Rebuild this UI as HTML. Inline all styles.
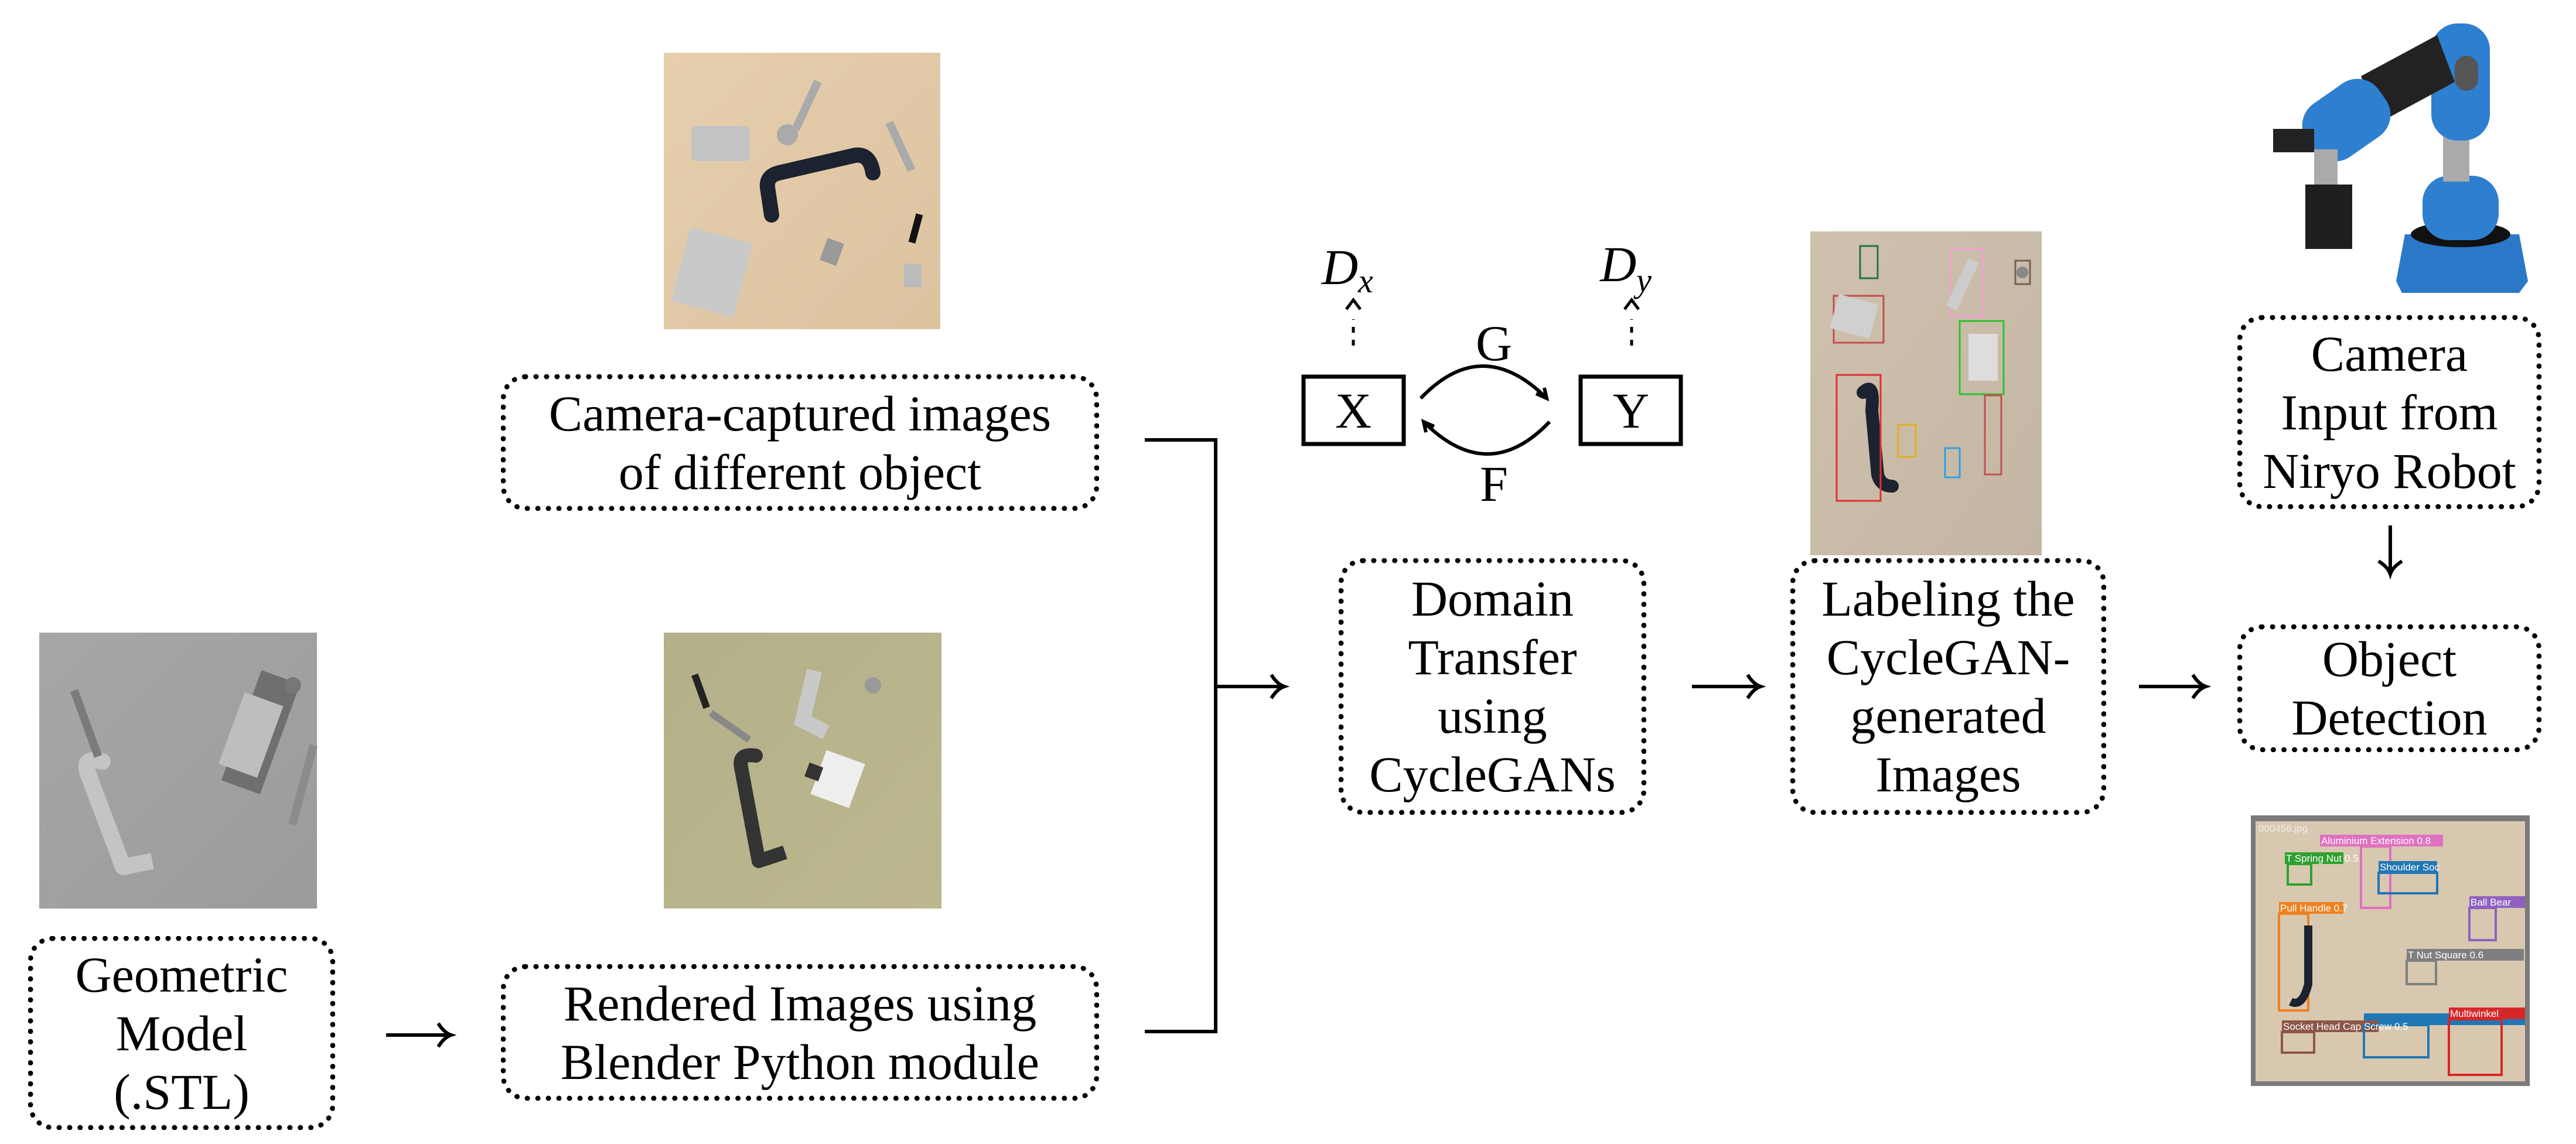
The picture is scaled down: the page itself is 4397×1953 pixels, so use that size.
<!DOCTYPE html>
<html><head><meta charset="utf-8"><style>
body{margin:0;width:4397px;height:1953px;background:#fff;position:relative;overflow:hidden;font-family:"Liberation Serif",serif;}
.b{position:absolute;box-sizing:border-box;border:9px dotted #000;border-radius:42px;display:flex;align-items:center;justify-content:center;text-align:center;font-size:86px;line-height:100px;color:#000;white-space:nowrap;}
svg{position:absolute;left:0;top:0;}
</style></head><body>

<svg width="4397" height="1953" viewBox="0 0 4397 1953">
<defs>
<linearGradient id="g1" x1="0" y1="0" x2="1" y2="1"><stop offset="0" stop-color="#a6a7a8"/><stop offset="1" stop-color="#9a9b9c"/></linearGradient>
<linearGradient id="g2" x1="0" y1="0" x2="1" y2="1"><stop offset="0" stop-color="#b3b08a"/><stop offset="1" stop-color="#bcb78e"/></linearGradient>
<linearGradient id="g3" x1="0" y1="0" x2="1" y2="1"><stop offset="0" stop-color="#e6cfae"/><stop offset="1" stop-color="#dcc3a0"/></linearGradient>
<linearGradient id="g4" x1="0" y1="0" x2="1" y2="1"><stop offset="0" stop-color="#cfc1ad"/><stop offset="1" stop-color="#c3b6a3"/></linearGradient>
</defs>

<rect x="67" y="1080" width="474" height="471" fill="url(#g1)"/>
<path d="M210,1480 L150,1320 Q140,1290 175,1300" stroke="#c3c4c5" stroke-width="28" fill="none" stroke-linecap="round"/>
<path d="M210,1480 L260,1470" stroke="#c3c4c5" stroke-width="28" fill="none"/>
<rect x="410" y="1150" width="70" height="200" fill="#6e6f70" transform="rotate(20 445 1250)"/>
<rect x="395" y="1190" width="70" height="130" fill="#bdbebf" transform="rotate(20 430 1250)"/>
<rect x="140" y="1175" width="14" height="120" fill="#7a7b7c" transform="rotate(-20 147 1235)"/>
<rect x="510" y="1270" width="14" height="140" fill="#8a8b8c" transform="rotate(15 517 1340)"/>
<circle cx="500" cy="1170" r="14" fill="#777"/>

<rect x="1133" y="1080" width="474" height="471" fill="url(#g2)"/>
<path d="M1295,1470 L1265,1310 Q1260,1285 1290,1290" stroke="#333" stroke-width="24" fill="none" stroke-linecap="round"/>
<path d="M1295,1470 L1340,1455" stroke="#333" stroke-width="24" fill="none"/>
<path d="M1400,1145 L1380,1230 L1420,1250" stroke="#c9c9c9" stroke-width="26" fill="none" transform="translate(-10 0)"/>
<rect x="1395" y="1290" width="70" height="80" fill="#eee" transform="rotate(20 1430 1330)"/>
<rect x="1375" y="1320" width="25" height="25" fill="#333" transform="rotate(20 1430 1330)"/>
<rect x="1190" y="1150" width="12" height="60" fill="#222" transform="rotate(-20 1196 1180)"/>
<rect x="1240" y="1200" width="12" height="80" fill="#888" transform="rotate(-55 1246 1240)"/>
<circle cx="1490" cy="1170" r="14" fill="#999"/>

<rect x="1133" y="90" width="472" height="472" fill="url(#g3)"/>
<path d="M1317,367 L1310,320 Q1308,300 1330,295 L1460,265 Q1485,262 1490,295" stroke="#1c2230" stroke-width="26" fill="none" stroke-linecap="round"/>
<rect x="1160" y="400" width="110" height="130" fill="#c9c9c9" transform="rotate(15 1215 465)"/>
<rect x="1180" y="215" width="100" height="60" fill="#c3c3c5" rx="8"/>
<rect x="1370" y="135" width="14" height="90" fill="#aaa" transform="rotate(25 1377 180)"/>
<rect x="1530" y="205" width="14" height="90" fill="#aaa" transform="rotate(-25 1537 250)"/>
<circle cx="1344" cy="230" r="18" fill="#aaa"/>
<rect x="1557" y="365" width="12" height="50" fill="#111" transform="rotate(15 1563 390)"/>
<rect x="1543" y="450" width="30" height="40" fill="#bbb"/>
<rect x="1405" y="410" width="30" height="40" fill="#999" transform="rotate(20 1420 430)"/>

<rect x="3090" y="395" width="395" height="553" fill="url(#g4)"/>
<path d="M3180,670 Q3200,650 3195,700 L3205,810 Q3210,830 3230,830" stroke="#1c2230" stroke-width="22" fill="none" stroke-linecap="round"/>
<rect x="3135" y="640" width="75" height="215" fill="none" stroke="#e03030" stroke-width="3"/>
<rect x="3175" y="420" width="30" height="55" fill="none" stroke="#2a7040" stroke-width="3"/>
<rect x="3130" y="505" width="85" height="80" fill="none" stroke="#c05050" stroke-width="3"/>
<rect x="3330" y="425" width="55" height="115" fill="none" stroke="#f0a0d0" stroke-width="3"/>
<rect x="3345" y="548" width="75" height="125" fill="none" stroke="#30c030" stroke-width="3"/>
<rect x="3440" y="445" width="25" height="40" fill="none" stroke="#7a6050" stroke-width="3"/>
<circle cx="3452" cy="465" r="10" fill="#888"/>
<rect x="3240" y="725" width="30" height="55" fill="none" stroke="#e0b020" stroke-width="3"/>
<rect x="3320" y="765" width="25" height="50" fill="none" stroke="#30a0e0" stroke-width="3"/>
<rect x="3388" y="675" width="28" height="135" fill="none" stroke="#c05050" stroke-width="3"/>
<rect x="3360" y="570" width="50" height="80" fill="#ddd"/>
<rect x="3340" y="440" width="20" height="90" fill="#ccc" transform="rotate(25 3350 485)"/>
<rect x="3130" y="510" width="70" height="60" fill="#d0d0d0" transform="rotate(15 3165 540)"/>

<path d="M4105,400 L4300,400 L4315,480 L4300,500 L4100,500 L4090,480 Z" fill="#2b78c9"/>
<ellipse cx="4200" cy="400" rx="85" ry="22" fill="#111"/>
<rect x="4135" y="300" width="130" height="110" rx="45" fill="#2f7fd0"/>
<rect x="4170" y="230" width="45" height="80" fill="#aaa"/>
<rect x="4150" y="40" width="100" height="200" rx="45" fill="#2f7fd0"/>
<rect x="4190" y="95" width="40" height="60" rx="20" fill="#555"/>
<path d="M4030,130 L4160,60 L4190,140 L4060,210 Z" fill="#222"/>
<rect x="3930" y="150" width="150" height="110" rx="45" fill="#2f7fd0" transform="rotate(-35 4005 205)"/>
<rect x="3950" y="255" width="40" height="70" fill="#aaa"/>
<rect x="3935" y="315" width="80" height="110" fill="#1e1e1e"/>
<rect x="3880" y="220" width="70" height="40" fill="#222"/>

<rect x="3842" y="1392" width="476" height="462" fill="#7a7a7a"/>
<rect x="3850" y="1402" width="460" height="444" fill="#d8c8b0"/>
<rect x="3890" y="1560" width="50" height="165" fill="none" stroke="#f08020" stroke-width="4"/>
<rect x="3890" y="1540" width="110" height="20" fill="#f08020"/>
<path d="M3910,1710 Q3930,1720 3940,1680 L3940,1580" stroke="#1c2230" stroke-width="14" fill="none"/>
<rect x="3960" y="1425" width="210" height="20" fill="#e070c0"/>
<rect x="4030" y="1445" width="50" height="105" fill="none" stroke="#e070c0" stroke-width="4"/>
<rect x="3900" y="1455" width="100" height="20" fill="#30a030"/>
<rect x="3905" y="1475" width="40" height="35" fill="none" stroke="#30a030" stroke-width="4"/>
<rect x="4060" y="1470" width="100" height="20" fill="#1f77b4"/>
<rect x="4060" y="1490" width="100" height="35" fill="none" stroke="#1f77b4" stroke-width="4"/>
<rect x="4215" y="1530" width="95" height="20" fill="#9060c0"/>
<rect x="4215" y="1550" width="45" height="55" fill="none" stroke="#9060c0" stroke-width="4"/>
<rect x="4108" y="1620" width="200" height="20" fill="#7f7f7f"/>
<rect x="4108" y="1640" width="50" height="40" fill="none" stroke="#7f7f7f" stroke-width="4"/>
<rect x="4035" y="1730" width="275" height="20" fill="#1f77b4"/>
<rect x="3895" y="1742" width="165" height="20" fill="#8c564b"/>
<rect x="3895" y="1762" width="55" height="35" fill="none" stroke="#8c564b" stroke-width="4"/>
<rect x="4180" y="1720" width="130" height="20" fill="#d62728"/>
<rect x="4180" y="1740" width="90" height="95" fill="none" stroke="#d62728" stroke-width="4"/>
<rect x="4035" y="1750" width="110" height="55" fill="none" stroke="#1f77b4" stroke-width="4"/>
<g font-family="Liberation Sans,sans-serif" font-size="17" fill="#fff">
<text x="3855" y="1420" fill="#eee">000456.jpg</text>
<text x="3962" y="1441">Aluminium Extension 0.8</text>
<text x="3902" y="1471">T Spring Nut 0.5</text>
<text x="4062" y="1486">Shoulder Soc</text>
<text x="3892" y="1556">Pull Handle 0.7</text>
<text x="4217" y="1546">Ball Bear</text>
<text x="4110" y="1636">T Nut Square 0.6</text>
<text x="4182" y="1736">Multiwinkel</text>
<text x="3897" y="1758">Socket Head Cap Screw 0.5</text>
</g>

<g stroke="#000" stroke-width="6" fill="none">
<line x1="1954" y1="751" x2="2075" y2="751"/>
<line x1="1954" y1="1761" x2="2075" y2="1761"/>
<line x1="2075" y1="748" x2="2075" y2="1764"/>
<line x1="2075" y1="1172" x2="2190" y2="1172"/>
<path d="M2170,1152 Q2180,1168 2192,1172 Q2180,1176 2170,1192"/>
<line x1="659" y1="1767" x2="768" y2="1767"/>
<path d="M748,1747 Q758,1763 770,1767 Q758,1771 748,1787"/>
<line x1="2888" y1="1172" x2="3003" y2="1172"/>
<path d="M2983,1152 Q2993,1168 3005,1172 Q2993,1176 2983,1192"/>
<line x1="3651" y1="1172" x2="3763" y2="1172"/>
<path d="M3743,1152 Q3753,1168 3765,1172 Q3753,1176 3743,1192"/>
<line x1="4080" y1="897" x2="4080" y2="978"/>
<path d="M4060,958 Q4076,968 4080,980 Q4084,968 4100,958"/>
<rect x="2225" y="643" width="171" height="115" stroke-width="7"/>
<rect x="2698" y="643" width="171" height="115" stroke-width="7"/>
<path d="M2425,680 Q2530,570 2640,680"/>
<path d="M2622,672 L2640,680 L2636,662"/>
<path d="M2645,720 Q2540,830 2430,720"/>
<path d="M2448,728 L2430,720 L2434,738"/>
<line x1="2310" y1="590" x2="2310" y2="545" stroke-dasharray="10 12" stroke-width="5"/>
<line x1="2785" y1="590" x2="2785" y2="545" stroke-dasharray="10 12" stroke-width="5"/>
<path d="M2298,528 L2310,512 L2322,528" stroke-width="5"/>
<path d="M2773,528 L2785,512 L2797,528" stroke-width="5"/>
</g>
<g font-family="Liberation Serif,serif" font-size="86" fill="#000" text-anchor="middle">
<text x="2310" y="730">X</text>
<text x="2784" y="730">Y</text>
<text x="2550" y="615">G</text>
<text x="2550" y="855">F</text>
<text x="2300" y="485" font-style="italic">D<tspan font-size="58" dy="14">x</tspan></text>
<text x="2775" y="480" font-style="italic">D<tspan font-size="58" dy="18">y</tspan></text>
</g>
</svg>

<div class="b" style="left:855px;top:639px;width:1021px;height:233px;">Camera-captured images<br>of different object</div>
<div class="b" style="left:855px;top:1646px;width:1021px;height:233px;">Rendered Images using<br>Blender Python module</div>
<div class="b" style="left:48px;top:1598px;width:524px;height:331px;">Geometric<br>Model<br>(.STL)</div>
<div class="b" style="left:2285px;top:953px;width:525px;height:438px;">Domain<br>Transfer<br>using<br>CycleGANs</div>
<div class="b" style="left:3056px;top:953px;width:539px;height:438px;">Labeling the<br>CycleGAN-<br>generated<br>Images</div>
<div class="b" style="left:3819px;top:538px;width:519px;height:331px;">Camera<br>Input from<br>Niryo Robot</div>
<div class="b" style="left:3819px;top:1066px;width:519px;height:218px;">Object<br>Detection</div>
</body></html>
